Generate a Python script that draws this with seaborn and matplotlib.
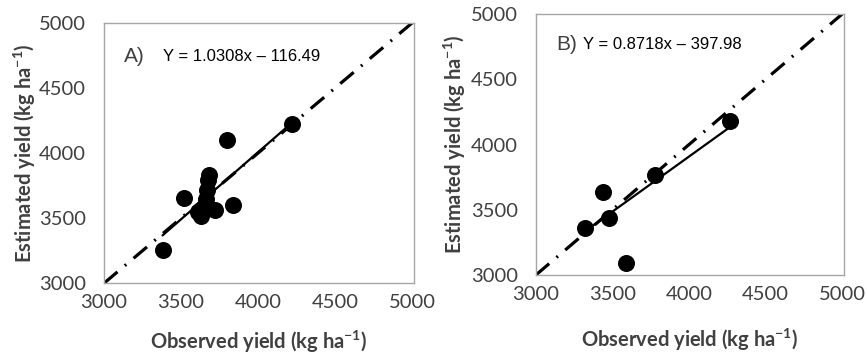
import numpy as np
import pandas as pd
import matplotlib
matplotlib.use("Agg")
import matplotlib.pyplot as plt
import seaborn as sns

# Panel A: observed vs estimated yield (kg/ha)
obs_a = [3380, 3520, 3610, 3630, 3650, 3660, 3670, 3675, 3680, 3720, 3835, 3797, 4220]
est_a = [3255, 3655, 3550, 3520, 3580, 3650, 3720, 3790, 3830, 3560, 3600, 4100, 4225]
fit_a = (1.0308, -116.49)
label_a = "Y = 1.0308x \u2013 116.49"

# Panel B
obs_b = [3318, 3437, 3476, 3590, 3780, 4265]
est_b = [3360, 3640, 3435, 3095, 3765, 4180]
fit_b = (0.844, 532.0)  # line as drawn in the figure
label_b = "Y = 0.8718x \u2013 397.98"

ticks = [3000, 3500, 4000, 4500, 5000]
one_to_one = [3000, 5000]

sns.set_theme(style="white")
plt.rcParams["font.family"] = ["Lato", "DejaVu Sans"]
plt.rcParams["mathtext.default"] = "regular"

fig = plt.figure(figsize=(8.67, 3.54), dpi=100)
ax_a = fig.add_axes([0.120, 0.200, 0.357, 0.735])
ax_b = fig.add_axes([0.618, 0.223, 0.355, 0.737])

grey = "#404040"
panels = [
    (ax_a, obs_a, est_a, fit_a, (-0.227, -0.255)),
    (ax_b, obs_b, est_b, fit_b, (-0.249, -0.263)),
]

for ax, obs, est, fit, (xl_y, yl_x) in panels:
    df = pd.DataFrame({"obs": obs, "est": est})
    # 1:1 line
    ax.plot(one_to_one, one_to_one, color="black", lw=2.3,
            dashes=(5.5, 3, 0.6, 3), zorder=1)
    # regression line over the data range
    xs = np.array([min(obs), max(obs)])
    ax.plot(xs, fit[0] * xs + fit[1], color="black", lw=1.6, zorder=2)
    sns.scatterplot(data=df, x="obs", y="est", ax=ax, s=150, color="black",
                    edgecolor="black", linewidth=0, zorder=3)

    ax.set_xlim(3000, 5010)
    ax.set_ylim(3000, 5000)
    ax.set_xticks(ticks)
    ax.set_yticks(ticks)
    ax.tick_params(direction="in", length=3, width=0.8, color="#a0a0a0",
                   labelsize=14.5, labelcolor=grey)
    ax.tick_params(axis="y", pad=13)
    ax.tick_params(axis="x", pad=8)
    for sp in ax.spines.values():
        sp.set_color("#a6a6a6")
        sp.set_linewidth(1.0)
    ax.set_xlabel("Observed yield (kg ha$^{-1}$)", fontsize=14.5,
                  fontweight="bold", color=grey)
    ax.set_ylabel("Estimated yield (kg ha$^{-1}$)", fontsize=14.5,
                  fontweight="bold", color=grey)
    ax.xaxis.set_label_coords(0.5, xl_y)
    ax.yaxis.set_label_coords(yl_x, 0.5)
    ax.xaxis.label.set_va("center")
    ax.yaxis.label.set_va("center")

ax_a.text(0.065, 0.87, "A)", transform=ax_a.transAxes, fontsize=15,
          color=grey, family="Liberation Sans", va="center")
ax_a.text(0.19, 0.87, label_a, transform=ax_a.transAxes, fontsize=12,
          color="black", family="Liberation Sans", va="center")
ax_b.text(0.065, 0.885, "B)", transform=ax_b.transAxes, fontsize=15,
          color=grey, family="Liberation Sans", va="center")
ax_b.text(0.153, 0.885, label_b, transform=ax_b.transAxes, fontsize=12,
          color="black", family="Liberation Sans", va="center")

fig.savefig("out.png", dpi=100)
